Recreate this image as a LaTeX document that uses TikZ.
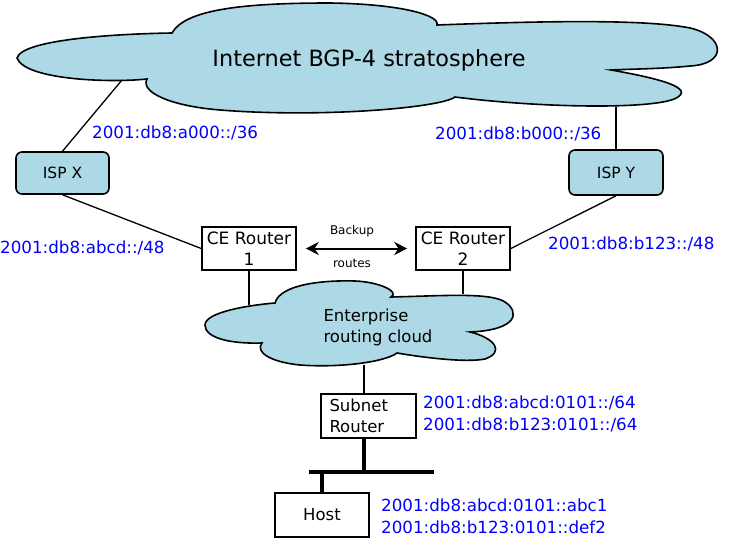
\documentclass[tikz,border=0pt]{standalone}
\usepackage{fontspec}
\setmainfont{DejaVu Sans}
\usepackage{tikz}
\usetikzlibrary{arrows.meta,positioning,calc}
\definecolor{cloudblue}{RGB}{173,216,230}
\definecolor{addrblue}{RGB}{0,0,255}

\begin{document}
\begin{tikzpicture}[x=1pt,y=-1pt,
    box/.style={rectangle,draw=black,fill=white,line width=1.6pt,align=center,
      inner sep=0pt,minimum width=94pt,minimum height=43pt,font=\fontsize{16.5}{20.5}\selectfont},
    isp/.style={box,fill=cloudblue,rounded corners=6pt,font=\fontsize{15.5}{18}\selectfont},
    addr/.style={anchor=west,inner sep=0pt,text=addrblue,font=\fontsize{16.7}{20}\selectfont},
    cloud/.style={draw=black,fill=cloudblue,line width=1.6pt},
    twoway/.style={line width=2pt,shorten <=9pt,shorten >=8pt,
      arrows={Stealth[length=13pt,width=13pt]-Stealth[length=13pt,width=13pt]}},
    l/.style={line width=1.3pt},
    bus/.style={line width=3.2pt}]
    \useasboundingbox (0,0) rectangle (744,540);

    % internet cloud
    \path[cloud] (17,58) .. controls (22,40) and (110,34) .. (172,33)
      .. controls (185,10) and (240,3) .. (330,3)
      .. controls (400,4) and (440,15) .. (437,25)
      .. controls (520,22) and (640,18) .. (690,28)
      .. controls (725,36) and (728,64) .. (690,66)
      .. controls (660,69) and (630,69) .. (611,70)
      .. controls (645,76) and (695,86) .. (678,97)
      .. controls (660,110) and (540,108) .. (455,97)
      .. controls (440,108) and (320,118) .. (220,110)
      .. controls (170,106) and (140,92) .. (147,79)
      .. controls (110,83) and (25,80) .. (17,58) -- cycle;
    \node[font=\fontsize{22.4}{26}\selectfont] (inet) at (369,60) {Internet BGP-4 stratosphere};
    \coordinate (inetX) at (122,80);
    \coordinate (inetY) at (616,107);

    % enterprise cloud
    \path[cloud] (205,325) .. controls (205,312) and (250,305) .. (275,303)
      .. controls (280,285) and (320,280) .. (355,281)
      .. controls (380,282) and (400,292) .. (391,297)
      .. controls (440,296) and (490,292) .. (505,302)
      .. controls (520,312) and (518,330) .. (470,332)
      .. controls (495,338) and (505,352) .. (485,359)
      .. controls (465,363) and (420,357) .. (397,353)
      .. controls (385,362) and (340,368) .. (300,365)
      .. controls (270,362) and (255,352) .. (262,343)
      .. controls (230,344) and (205,338) .. (205,325) -- cycle;
    \node[align=left,font=\fontsize{16.5}{21}\selectfont] (ent) at (378,327) {Enterprise\\routing cloud};
    \coordinate (entL) at (249,305);
    \coordinate (entR) at (463,294);
    \coordinate (entB) at (364,365);

    \node[isp,minimum width=93pt,minimum height=42pt] (ispx) at (62.5,173) {ISP X};
    \node[isp,minimum height=45pt] (ispy) at (616,172.5) {ISP Y};
    \node[box,font=\fontsize{17}{20.5}\selectfont] (ce1) at (249,248.5) {CE Router\\1};
    \node[box,font=\fontsize{17}{20.5}\selectfont] (ce2) at (463,248.5) {CE Router\\2};
    \node[box,minimum width=95pt,minimum height=44pt,text width=78pt,align=left,
      font=\fontsize{16.5}{21}\selectfont] (subnet) at (368.5,416) {Subnet\\Router};
    \node[box,minimum height=44pt] (host) at (322,515) {Host};
    \coordinate (busL) at (309,472);
    \coordinate (busR) at (434,472);

    \node[font=\fontsize{12}{14}\selectfont] (bk) at (352,231) {Backup};
    \node[font=\fontsize{12}{14}\selectfont] (rt) at (352,263) {routes};

    \node[addr] (pa) at (92,133) {2001:db8:a000::/36};
    \node[addr] (pb) at (435,134) {2001:db8:b000::/36};
    \node[addr] (pa48) at (0,248) {2001:db8:abcd::/48};
    \node[addr] (pb48) at (548,244) {2001:db8:b123::/48};
    \node[addr] (sa) at (423,403) {2001:db8:abcd:0101::/64};
    \node[addr] (sb) at (423,425) {2001:db8:b123:0101::/64};
    \node[addr] (ha) at (381,505) {2001:db8:abcd:0101::abc1};
    \node[addr] (hb) at (381,527) {2001:db8:b123:0101::def2};

    \draw[l] (inetX) -- (ispx.north);
    \draw[l] (inetY) -- (ispy.north);
    \draw[l] (ispx.south) -- (ce1.west);
    \draw[l] (ispy.south) -- (ce2.east);
    \draw[l] (ce1.south) -- (entL);
    \draw[l] (ce2.south) -- (entR);
    \draw[l] (entB) -- (entB |- subnet.north);
    \draw[twoway] (ce1) -- (ce2);
    \draw[bus] (entB |- subnet.south) -- (entB |- busL);
    \draw[bus] (busL) -- (busR);
    \draw[bus] (host.north) -- (host.north |- busL);
  \end{tikzpicture}
\end{document}
